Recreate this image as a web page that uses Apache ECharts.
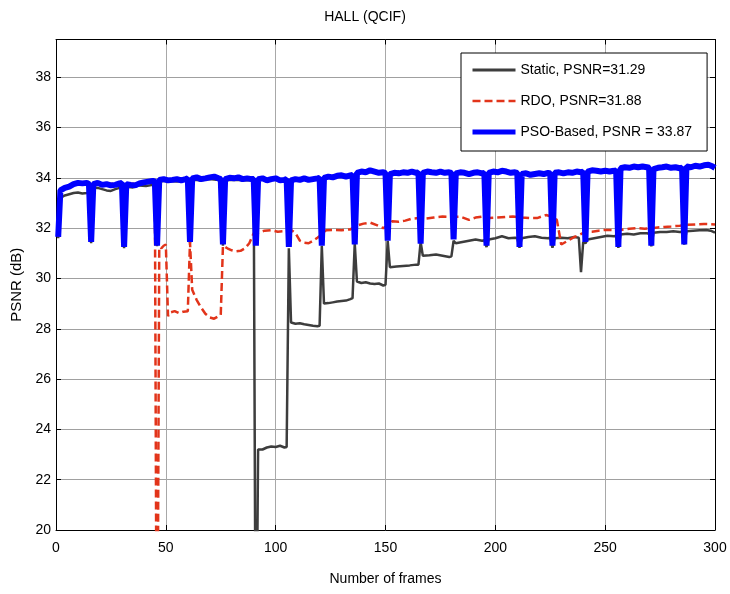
<!DOCTYPE html>
<html>
<head>
<meta charset="utf-8">
<script src="https://cdn.jsdelivr.net/npm/echarts@6/dist/echarts.min.js"></script>
<style>
html,body{margin:0;padding:0;background:#fff;}
#chart{width:730px;height:594px;}
</style>
</head>
<body>
<div id="chart"></div>
<script>
const titleText = 'HALL (QCIF)';
const xName = 'Number of frames';
const yName = 'PSNR (dB)';
const seriesNames = ['Static, PSNR=31.29', 'RDO, PSNR=31.88', 'PSO-Based, PSNR = 33.87'];
const xTicks = [0, 50, 100, 150, 200, 250, 300];
const yTicks = [20, 22, 24, 26, 28, 30, 32, 34, 36, 38];

const staticFrames = [1,2,4,6,8,10,12,14,15,16,17,19,21,23,25,27,29,30,31,32,35,38,41,44,45,46,47,50,55,60,61,62,66,70,75,76,77,81,85,90,91,92,94,96,98,100,102,104,105,106,107,109,111,113,115,117,119,120,121,122,124,126,128,130,132,134,135,136,137,139,141,143,145,147,149,150,151,152,155,158,161,164,165,166,167,170,173,176,179,180,181,182,185,188,191,194,195,196,197,200,203,206,209,210,211,212,215,218,221,224,225,226,227,230,233,236,238,239,240,241,242,245,248,251,254,255,256,257,260,263,266,269,270,271,272,275,278,281,284,285,286,287,290,293,296,298,300];
const staticPSNR = [31.6,33.2,33.3,33.35,33.4,33.42,33.38,33.4,33.42,31.4,33.62,33.6,33.55,33.5,33.48,33.55,33.6,33.62,31.2,33.65,33.62,33.7,33.68,33.72,33.7,31.28,33.85,33.88,33.85,33.9,31.4,33.92,33.9,33.95,33.9,31.3,33.9,33.92,33.9,33.9,12,23.2,23.2,23.28,23.32,23.3,23.35,23.28,23.3,31.2,28.25,28.2,28.22,28.18,28.15,28.12,28.1,28.12,31.3,29.0,29.02,29.05,29.08,29.1,29.12,29.18,29.22,31.4,29.88,29.82,29.85,29.8,29.78,29.8,29.72,29.75,31.5,30.45,30.48,30.5,30.52,30.55,30.55,31.45,30.9,30.92,30.95,30.9,30.85,30.88,31.5,31.4,31.45,31.5,31.55,31.5,31.52,31.25,31.55,31.6,31.68,31.6,31.62,31.6,31.22,31.6,31.65,31.68,31.62,31.6,31.62,31.22,31.6,31.62,31.6,31.65,31.62,30.25,31.45,31.4,31.55,31.6,31.65,31.7,31.68,31.7,31.22,31.75,31.78,31.75,31.8,31.8,31.78,31.28,31.82,31.85,31.85,31.88,31.85,31.86,31.35,31.88,31.9,31.92,31.93,31.9,31.82];

const rdoFrames = [1,2,6,10,15,16,17,23,30,31,32,38,45,46,47,48,49,50,51,52,54,56,58,60,61,62,64,66,68,70,72,74,75,76,78,80,82,84,86,88,90,92,95,98,101,104,107,109,111,113,115,117,119,121,123,126,130,134,137,140,143,146,149,151,153,156,159,162,165,168,172,176,180,184,188,191,194,197,201,205,208,212,216,219,223,226,228,230,232,234,236,238,241,244,247,250,254,257,261,264,268,273,277,280,284,287,291,295,298,300];
const rdoPSNR = [31.65,33.5,33.65,33.78,33.75,31.45,33.75,33.75,33.78,31.25,33.75,33.78,33.85,10,31.25,31.2,31.3,31.35,28.5,28.65,28.7,28.62,28.68,28.7,31.45,29.55,29.15,28.85,28.6,28.45,28.4,28.5,28.55,31.3,31.2,31.12,31.08,31.1,31.2,31.4,31.8,31.82,31.9,31.92,31.86,31.88,31.93,31.8,31.5,31.42,31.4,31.5,31.62,31.75,31.92,31.93,31.92,31.95,32.1,32.18,32.22,32.12,32.0,32.1,32.27,32.25,32.3,32.38,32.4,32.38,32.42,32.46,32.45,32.46,32.33,32.42,32.46,32.4,32.42,32.45,32.46,32.42,32.4,32.4,32.52,32.45,32.33,31.35,31.45,31.55,31.65,31.72,31.85,31.86,31.9,31.93,31.92,31.93,31.98,32.0,31.98,32.02,32.05,32.07,32.1,32.13,32.15,32.17,32.16,32.15];

const psoFrames = [1,2,4,6,8,10,12,14,15,16,17,19,21,23,25,27,29,30,31,32,34,36,38,40,42,44,45,46,47,49,51,53,55,57,59,60,61,62,64,66,68,70,72,74,75,76,77,79,81,83,85,87,89,90,91,92,94,96,98,100,102,104,105,106,107,109,111,113,115,117,119,120,121,122,124,126,128,130,132,134,135,136,137,139,141,143,145,147,149,150,151,152,154,156,158,160,162,164,165,166,167,169,171,173,175,177,179,180,181,182,184,186,188,190,192,194,195,196,197,199,201,203,205,207,209,210,211,212,214,216,218,220,222,224,225,226,227,229,231,233,235,237,239,240,241,242,244,246,248,250,252,254,255,256,257,259,261,263,265,267,269,270,271,272,274,276,278,280,282,284,285,286,287,289,291,293,295,297,299,300];
const psoPSNR = [31.65,33.5,33.6,33.65,33.75,33.8,33.78,33.8,33.75,31.45,33.75,33.8,33.72,33.75,33.7,33.72,33.78,33.8,31.25,33.75,33.72,33.7,33.78,33.82,33.85,33.88,33.85,31.3,33.92,33.95,33.9,33.92,33.95,33.9,33.95,33.98,31.45,33.98,34.02,33.95,33.98,34.02,34.05,33.98,33.95,31.35,33.95,34.0,33.98,34.02,33.95,33.98,33.95,33.95,31.3,33.95,33.98,33.9,33.95,33.98,33.9,33.92,33.95,31.25,33.9,33.95,33.92,33.98,33.92,33.95,33.98,34.0,31.3,34.0,34.05,34.02,34.08,34.1,34.05,34.1,34.12,31.35,34.2,34.25,34.22,34.3,34.25,34.2,34.22,34.18,31.5,34.15,34.2,34.18,34.22,34.2,34.25,34.2,34.22,31.38,34.2,34.25,34.22,34.2,34.25,34.2,34.22,34.2,31.55,34.18,34.22,34.2,34.15,34.2,34.22,34.18,34.2,31.3,34.2,34.25,34.22,34.28,34.25,34.2,34.22,34.2,31.25,34.15,34.18,34.12,34.15,34.18,34.15,34.2,34.18,31.3,34.2,34.22,34.18,34.22,34.2,34.25,34.22,34.25,31.45,34.25,34.3,34.28,34.25,34.28,34.25,34.28,34.3,31.25,34.38,34.42,34.4,34.45,34.42,34.45,34.42,34.4,31.3,34.35,34.4,34.42,34.45,34.4,34.42,34.38,34.4,31.35,34.45,34.42,34.48,34.45,34.5,34.52,34.45,34.4];

function pairs(xs, ys) { return xs.map((x, i) => [x, ys[i]]); }

const FONT = 'Liberation Sans, Arial, sans-serif';
const chart = echarts.init(document.getElementById('chart'), null, {renderer: 'canvas'});
const boxAxis = {
  axisLine: {show: true, onZero: false, lineStyle: {color: '#000', width: 1}},
  axisTick: {show: true, inside: true, length: 5, lineStyle: {color: '#000'}},
};
chart.setOption({
  animation: false,
  backgroundColor: '#fff',
  title: {
    text: titleText, left: 'center', top: 5,
    textStyle: {fontFamily: FONT, fontSize: 14, fontWeight: 'normal', color: '#000'}
  },
  grid: {left: 56, right: 15, top: 39.5, bottom: 64, containLabel: false},
  legend: {
    orient: 'vertical', left: 461, top: 53,
    padding: [10, 15, 12, 9], itemWidth: 43, itemHeight: 14, itemGap: 17,
    backgroundColor: '#fff', borderColor: '#000', borderWidth: 1, borderRadius: 0,
    itemStyle: {opacity: 0},
    textStyle: {fontFamily: FONT, fontSize: 14, color: '#000'},
    data: [
      {name: seriesNames[0], lineStyle: {width: 3}},
      {name: seriesNames[1], lineStyle: {width: 2.5}},
      {name: seriesNames[2], lineStyle: {width: 5}}
    ]
  },
  xAxis: [{
    type: 'value', min: xTicks[0], max: xTicks[xTicks.length - 1], interval: 50,
    position: 'bottom',
    name: xName, nameLocation: 'middle', nameGap: 42,
    nameTextStyle: {fontFamily: FONT, fontSize: 14, color: '#000'},
    axisLabel: {fontFamily: FONT, fontSize: 14, color: '#000', margin: 11},
    splitLine: {show: true, lineStyle: {color: '#a8a8a8', width: 1}},
    ...boxAxis
  }, {
    type: 'value', min: xTicks[0], max: xTicks[xTicks.length - 1], interval: 50,
    position: 'top', axisLabel: {show: false}, splitLine: {show: false},
    ...boxAxis
  }],
  yAxis: [{
    type: 'value', min: yTicks[0], max: 39.5, interval: 2,
    position: 'left',
    name: yName, nameLocation: 'middle', nameGap: 25, nameRotate: 90,
    nameTextStyle: {fontFamily: FONT, fontSize: 15, color: '#000'},
    axisLabel: {fontFamily: FONT, fontSize: 14, color: '#000', margin: 5, showMaxLabel: false,
      formatter: v => (yTicks.indexOf(v) >= 0 ? String(v) : '')},
    splitLine: {show: true, lineStyle: {color: '#a0a0a0', width: 1}},
    ...boxAxis
  }, {
    type: 'value', min: yTicks[0], max: 39.5, interval: 2,
    position: 'right', axisLabel: {show: false}, splitLine: {show: false},
    ...boxAxis
  }],
  series: [{
    name: seriesNames[0], type: 'line', symbol: 'none', clip: true,
    data: pairs(staticFrames, staticPSNR),
    itemStyle: {color: '#3d3d3d'},
    lineStyle: {color: '#3d3d3d', width: 2.5}
  }, {
    name: seriesNames[1], type: 'line', symbol: 'none', clip: true,
    data: pairs(rdoFrames, rdoPSNR),
    itemStyle: {color: '#e2341a'},
    lineStyle: {color: '#e2341a', width: 2.5, type: [8, 4]}
  }, {
    name: seriesNames[2], type: 'line', symbol: 'none', clip: true,
    data: pairs(psoFrames, psoPSNR),
    itemStyle: {color: '#0000ff'},
    lineStyle: {color: '#0000ff', width: 6}
  }]
});
</script>
</body>
</html>
